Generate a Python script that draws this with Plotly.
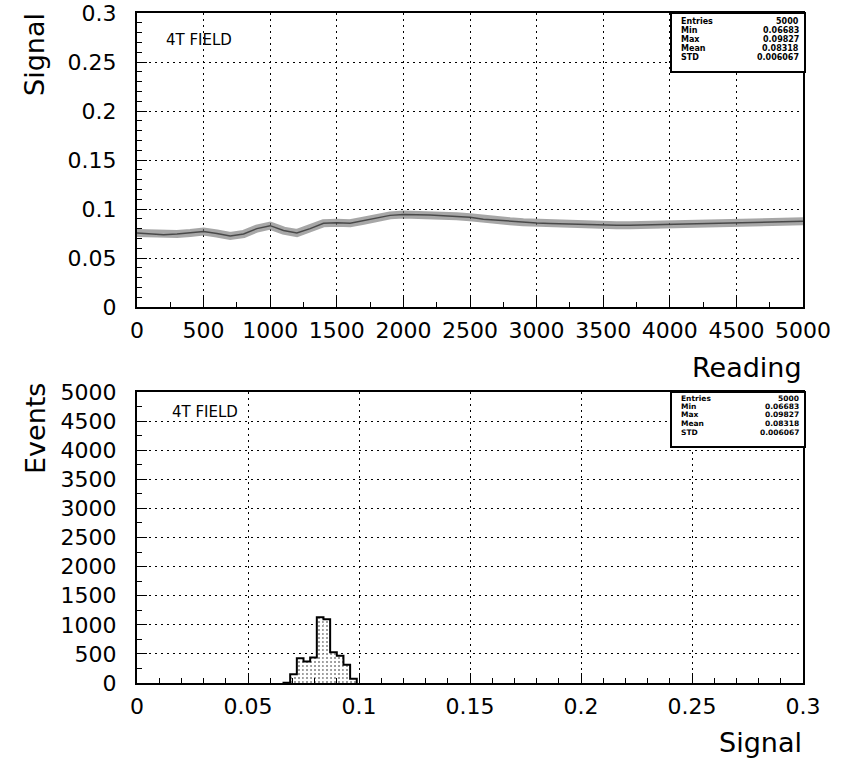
import plotly.graph_objects as go

# ---------------- data ----------------
reading = [0, 100, 200, 300, 400, 500, 600, 700, 800, 900,
           1000, 1100, 1200, 1300, 1400, 1500, 1600, 1700, 1800, 1900,
           2000, 2100, 2200, 2300, 2400, 2500, 2600, 2700, 2800, 2900,
           3000, 3100, 3200, 3300, 3400, 3500, 3600, 3700, 3800, 3900,
           4000, 4100, 4200, 4300, 4400, 4500, 4600, 4700, 4800, 4900, 5000]
signal = [0.0755, 0.0745, 0.0738, 0.0745, 0.0755, 0.0770, 0.0750, 0.0725, 0.0745, 0.0800,
          0.0830, 0.0780, 0.0755, 0.0800, 0.0855, 0.0860, 0.0855, 0.0880, 0.0910, 0.0935,
          0.0945, 0.0945, 0.0940, 0.0930, 0.0925, 0.0915, 0.0895, 0.0885, 0.0875, 0.0865,
          0.0858, 0.0853, 0.0848, 0.0843, 0.0838, 0.0832, 0.0833, 0.0835, 0.0838, 0.0840,
          0.0842, 0.0845, 0.0848, 0.0852, 0.0857, 0.0862, 0.0865, 0.0867, 0.0870, 0.0872, 0.0875]

bin_left = [0.066, 0.069, 0.072, 0.075, 0.078, 0.081, 0.084, 0.087, 0.090, 0.093, 0.096]
bin_width = 0.003
events = [5, 150, 425, 370, 440, 1130, 1095, 530, 470, 313, 72]

stats_labels = ["Entries", "Min", "Max", "Mean", "STD"]
stats_values = ["5000", "0.06683", "0.09827", "0.08318", "0.006067"]
panel_label = "4T FIELD"

# ---------------- layout helpers ----------------
W, H = 842, 765
FONT = "DejaVu Sans"


def px(x):
    return x / W


def py(y):
    return 1 - y / H


fig = go.Figure()

# top: signal vs reading (noisy band drawn as a thick grey stroke)
fig.add_trace(go.Scatter(x=reading, y=signal, mode="lines",
                         line=dict(color="rgba(120,120,120,0.65)", width=8),
                         xaxis="x", yaxis="y", hoverinfo="skip"))
fig.add_trace(go.Scatter(x=reading, y=signal, mode="lines",
                         line=dict(color="rgba(50,50,50,0.8)", width=1.5),
                         xaxis="x", yaxis="y"))

# bottom: histogram
centers = [b + bin_width / 2 for b in bin_left]
fig.add_trace(go.Bar(x=centers, y=events, width=bin_width,
                     marker=dict(color="white", line=dict(width=0),
                                 pattern=dict(shape=".", fgcolor="black", bgcolor="white",
                                              size=4, solidity=0.2)),
                     xaxis="x2", yaxis="y2"))
edges = bin_left + [bin_left[-1] + bin_width]
step_x = [edges[0]] + edges
step_y = [0] + events + [0]
fig.add_trace(go.Scatter(x=step_x, y=step_y, mode="lines", line_shape="hv",
                         line=dict(color="black", width=2),
                         xaxis="x2", yaxis="y2"))

common = dict(showline=True, linecolor="black", linewidth=2, mirror=True,
              ticks="inside", ticklen=10, tickwidth=1, tickcolor="black",
              showgrid=True, gridcolor="black", griddash="2px,4px", gridwidth=1,
              zeroline=False, automargin=False, ticklabeloverflow="allow",
              tickfont=dict(family=FONT, size=22, color="black"))

xd = [px(137), px(803)]
fig.update_layout(
    width=W, height=H, margin=dict(l=0, r=0, t=0, b=0, pad=0, autoexpand=False),
    paper_bgcolor="white", plot_bgcolor="white", showlegend=False,
    xaxis=dict(domain=xd, range=[0, 5000], dtick=500, tickformat="d", anchor="y",
               ticklabelstandoff=3,
               minor=dict(ticks="inside", ticklen=5, tickcolor="black", dtick=250, showgrid=False),
               **common),
    yaxis=dict(domain=[py(307), py(13)], range=[0, 0.3], dtick=0.05, anchor="x",
               ticklabelstandoff=14,
               minor=dict(ticks="inside", ticklen=5, tickcolor="black", dtick=0.01, showgrid=False),
               **common),
    xaxis2=dict(domain=xd, range=[0, 0.3], dtick=0.05, anchor="y2",
                ticklabelstandoff=3,
                minor=dict(ticks="inside", ticklen=5, tickcolor="black", dtick=0.01, showgrid=False),
                **common),
    yaxis2=dict(domain=[py(683), py(392)], range=[0, 5000], dtick=500, tickformat="d", anchor="x2",
                ticklabelstandoff=14,
                minor=dict(ticks="inside", ticklen=5, tickcolor="black", dtick=250, showgrid=False),
                **common),
)

ann = []
tfont = dict(family=FONT, size=27, color="black")
ann.append(dict(text="Signal", x=px(35), y=py(55), textangle=-90, font=tfont))
ann.append(dict(text="Events", x=px(35), y=py(429), textangle=-90, font=tfont))
ann.append(dict(text="Reading", x=px(804), y=py(367), xanchor="right", font=tfont))
ann.append(dict(text="Signal", x=px(804), y=py(742), xanchor="right", font=tfont))
lfont = dict(family=FONT, size=15, color="black")
ann.append(dict(text=panel_label, x=px(164), y=py(40), xanchor="left", font=lfont))
ann.append(dict(text=panel_label, x=px(170), y=py(412), xanchor="left", font=lfont))

shapes = []
for (y0, y1, rows, fs) in [(13, 72, [21.5, 30.5, 39.5, 48.5, 58], 8),
                           (392, 447, [398, 406.5, 415, 423.5, 432], 7.5)]:
    shapes.append(dict(type="rect", xref="paper", yref="paper",
                       x0=px(671), x1=px(805), y0=py(y1), y1=py(y0),
                       fillcolor="white", line=dict(color="black", width=2), layer="above"))
    for i, (lab, val) in enumerate(zip(stats_labels, stats_values)):
        sf = dict(family=FONT, size=fs, color="black")
        ann.append(dict(text="<b>%s</b>" % lab, x=px(679), y=py(rows[i]), xanchor="left", font=sf))
        ann.append(dict(text="<b>%s</b>" % val, x=px(801), y=py(rows[i]), xanchor="right", font=sf))

for a in ann:
    a.setdefault("xref", "paper")
    a.setdefault("yref", "paper")
    a.setdefault("showarrow", False)
    a.setdefault("yanchor", "middle")
    a.setdefault("xanchor", "center")

fig.update_layout(annotations=ann, shapes=shapes)
fig.write_html("out.html", config={"displayModeBar": False},
               post_script="document.body.style.margin='0';document.body.style.overflow='hidden';")
